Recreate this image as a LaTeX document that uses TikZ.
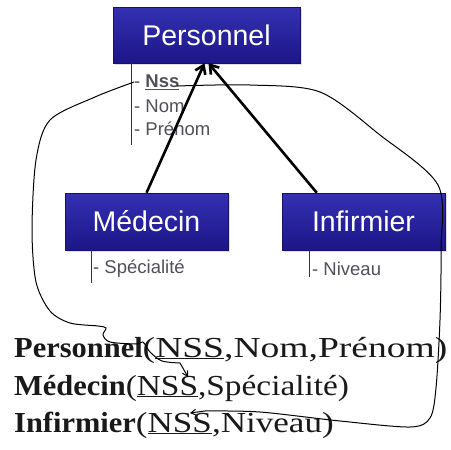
\documentclass[tikz,border=0pt]{standalone}
\usepackage{fontspec}
\setmainfont{Liberation Serif}
\newfontfamily\boxfont{Liberation Sans}
\usetikzlibrary{arrows.meta,shadows,calc}
\definecolor{boxtop}{RGB}{52,48,178}
\definecolor{boxbot}{RGB}{28,22,135}
\definecolor{attrcol}{RGB}{80,80,90}
\begin{document}
\begin{tikzpicture}[x=1pt,y=-1pt,
  entity/.style={minimum width=163pt, minimum height=57pt, inner sep=0pt,
    top color=boxtop, bottom color=boxbot, draw=boxbot!80!black, line width=0.4pt,
    text=white, font=\boxfont\fontsize{28.5}{30}\selectfont,
    drop shadow={opacity=0.25, shadow xshift=2pt, shadow yshift=-2pt}},
  attr/.style={anchor=west, inner sep=0pt, font=\boxfont\fontsize{18.5}{20}\selectfont, text=attrcol},
  attrline/.style={line width=0.8pt, black!80},
  rel/.style={anchor=base west, inner sep=0pt, font=\fontsize{29}{32}\selectfont, text=black!90},
  isa/.style={line width=2.6pt, -{Straight Barb[length=8pt,width=11pt]}},
  fk/.style={line width=1pt, -{Straight Barb[length=5pt,width=6pt]}}]
\useasboundingbox (0,0) rectangle (451,450);
\fill[white] (0,0) rectangle (451,450);

% entities
\node[entity, minimum width=187pt, minimum height=56pt] (pers) at (206.5,35) {Personnel};
\node[entity] (med) at (146.5,221.5) {Médecin};
\node[entity] (inf) at (363.5,221.5) {Infirmier};

% attribute lists
\draw[attrline] ($(pers.south west)+(19,0)$) -- ++(0,82);
\node[attr] (nss) at (134,82) {- \textbf{\underline{Nss}}};
\node[attr] (nom) at (134,106) {- Nom};
\node[attr] (prenom) at (134,129) {- Prénom};

\draw[attrline] ($(med.south west)+(27,0)$) -- ++(0,33);
\node[attr] (spec) at (93,269) {- Spécialité};
\draw[attrline] ($(inf.south west)+(28,0)$) -- ++(0,27);
\node[attr] (niv) at (312,269) {- Niveau};

% inheritance arrows
\draw[isa] (med.north) -- ([xshift=-2pt]pers.south);
\draw[isa] ($(inf.north west)+(35,0)$) -- ([xshift=2pt]pers.south);

% relational schema
\node[rel] (r1) at (14,357) {\scalebox{1.05}[1]{\textbf{Personnel}}\scalebox{1.295}[1]{(\underline{NSS},Nom,Prénom)}};
\node[rel] (r2) at (14,395) {\scalebox{1.05}[1]{\textbf{Médecin}}\scalebox{1.15}[1]{(\underline{NSS},Spécialité)}};
\node[rel] (r3) at (14,432) {\scalebox{1.05}[1]{\textbf{Infirmier}}\scalebox{1.21}[1]{(\underline{NSS},Niveau)}};

\coordinate (fk1) at (188,377);
\coordinate (fk2) at (190,413);

% foreign key curves
\draw[fk] plot[smooth, tension=0.5] coordinates {(nss.west) (95,97) (50,120) (36,160) (32,230) (36,282) (50,311) (70,323) (98,326) (106,328) (103,335) (110,342) (136,344) (143,342) (150,352) (162,361) (180,363)} -- (fk1);
\draw[fk] plot[smooth, tension=0.5] coordinates {(177,86) (250,85) (320,92) (380,135) (438,185) (441,250) (440,320) (436,388) (430,418) (410,427) (340,421) (260,412) (205,411)} -- (fk2);
\end{tikzpicture}
\end{document}
